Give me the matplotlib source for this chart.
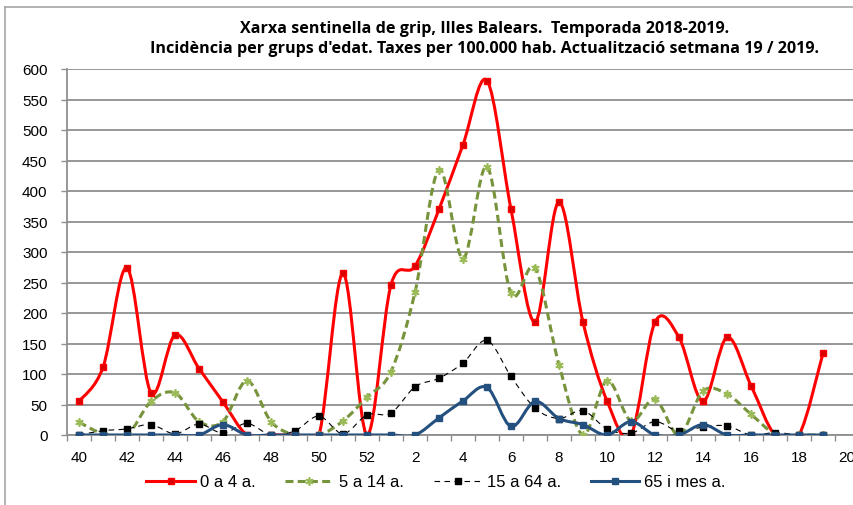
import numpy as np
import matplotlib.pyplot as plt
from matplotlib.path import Path
from matplotlib.patches import PathPatch
from matplotlib.lines import Line2D

# setmanes 40-52 (2018) i 1-19 (2019)
weeks = [40, 41, 42, 43, 44, 45, 46, 47, 48, 49, 50, 51, 52,
         1, 2, 3, 4, 5, 6, 7, 8, 9, 10, 11, 12, 13, 14, 15, 16, 17, 18, 19]
tick_labels = ['40', '42', '44', '46', '48', '50', '52', '2', '4', '6', '8',
               '10', '12', '14', '16', '18', '20']

edat_0_4 = [55, 111, 274, 69, 164, 109, 54, 0, 0, 0, 0, 265, 0,
            246, 277, 370, 476, 581, 370, 185, 382, 185, 56, 0, 185, 160, 55, 160, 81, 0, 0, 134]
edat_5_14 = [21, 2, 0, 55, 69, 22, 22, 89, 22, 0, 0, 23, 62,
             104, 234, 435, 289, 440, 232, 274, 115, 0, 89, 23, 59, 0, 72, 67, 34, 2, 0, 0]
edat_15_64 = [0, 7, 10, 17, 2, 18, 3, 19, 0, 7, 31, 2, 33,
              36, 79, 93, 118, 155, 96, 44, 27, 40, 10, 3, 22, 6, 13, 15, 0, 4, 0, 0]
edat_65 = [0, 0, 0, 0, 0, 0, 17, 0, 0, 0, 0, 0, 0,
           0, 0, 28, 56, 78, 14, 55, 27, 17, 0, 22, 0, 0, 17, 0, 0, 0, 0, 0]

series = [
    ('0 a 4 a.', edat_0_4, dict(color='#FF0000', lw=2.2, ls='-', marker='s', ms=5,
                                mfc='#D80000', mec='#FF0000')),
    ('5 a 14 a.', edat_5_14, dict(color='#77933C', lw=2.2, ls=(0, (2.6, 1.4)), marker=(6, 2, 0), ms=6,
                                  mfc='#9BBB59', mec='#9BBB59', mew=1.2)),
    ('15 a 64 a.', edat_15_64, dict(color='black', lw=0.8, ls=(0, (5, 4)), marker='s', ms=5,
                                    mfc='black', mec='black')),
    ('65 i mes a.', edat_65, dict(color='#24507F', lw=2.2, ls='-', marker='s', ms=4.5,
                                  mfc='#24507F', mec='#24507F')),
]


def smooth_path(x, y):
    # corba suavitzada tipus Excel (Bezier cubica)
    p = np.column_stack([x, y]).astype(float)
    n = len(p)
    verts = [p[0]]
    codes = [Path.MOVETO]
    for i in range(n - 1):
        p0 = p[i - 1] if i > 0 else p[i]
        p3 = p[i + 2] if i + 2 < n else p[i + 1]
        c1 = p[i] + (p[i + 1] - p0) / 6
        c2 = p[i + 1] - (p3 - p[i]) / 6
        verts += [c1, c2, p[i + 1]]
        codes += [Path.CURVE4] * 3
    return Path(verts, codes)


plt.rcParams['font.family'] = ['Liberation Sans', 'DejaVu Sans']

fig = plt.figure(figsize=(8.54, 5.06), dpi=100)
ax = fig.add_axes([67 / 854, 70 / 506, 792 / 854, 366 / 506])

x = np.arange(len(weeks))
handles = []
for name, vals, st in series:
    patch = PathPatch(smooth_path(x, vals), facecolor='none', edgecolor=st['color'],
                      lw=st['lw'], ls=st['ls'], zorder=3, capstyle='butt')
    ax.add_patch(patch)
    ax.plot(x, vals, ls='none', marker=st['marker'], ms=st['ms'], mfc=st['mfc'],
            mec=st['mec'], mew=st.get('mew', 1), zorder=4)
    handles.append(Line2D([], [], color=st['color'], lw=st['lw'], ls=st['ls'],
                          marker=st['marker'], ms=st['ms'], mfc=st['mfc'],
                          mec=st['mec'], mew=st.get('mew', 1), label=name))

ax.set_xlim(-0.5, 32.5)
ax.set_ylim(0, 600)
ax.set_yticks(range(0, 601, 50))
ax.set_xticks(range(0, 33, 2))
ax.set_xticklabels(tick_labels)
ax.set_xticks(np.arange(-0.5, 32.6, 1), minor=True)
ax.tick_params(axis='x', which='major', length=0, pad=11, labelsize=11)
ax.tick_params(axis='x', which='minor', length=4, color='#8f8f8f', width=1)
ax.tick_params(axis='y', length=4, color='#8f8f8f', width=1, pad=10, labelsize=11)
ax.grid(axis='y', color='#8f8f8f', lw=1.3)
ax.set_axisbelow(True)
for s in ['top', 'right']:
    ax.spines[s].set_visible(False)
for s in ['left', 'bottom']:
    ax.spines[s].set_color('#8f8f8f')
    ax.spines[s].set_linewidth(1.3)

title_font = dict(ha='center', va='center', fontsize=11.6, fontweight='bold',
                  family=['Open Sans', 'DejaVu Sans'])
fig.text(485 / 854, 1 - 29 / 506, 'Xarxa sentinella de grip, Illes Balears.  Temporada 2018-2019.',
         **title_font)
fig.text(485 / 854, 1 - 49 / 506,
         "Incidència per grups d'edat. Taxes per 100.000 hab. Actualització setmana 19 / 2019.",
         **title_font)

fig.legend(handles=handles, loc='center', bbox_to_anchor=(436 / 854, 1 - 483 / 506), ncol=4,
           frameon=False, fontsize=12, handlelength=2.9, handletextpad=0.3,
           columnspacing=1.8, numpoints=1)

# vora del grafic
fig.add_artist(Line2D([5.5 / 854, 5.5 / 854], [0, 1 - 7.5 / 506], color='#a6a6a6', lw=1.2,
                      transform=fig.transFigure))
fig.add_artist(Line2D([5.5 / 854, 1], [1 - 7.5 / 506, 1 - 7.5 / 506], color='#a6a6a6', lw=1.2,
                      transform=fig.transFigure))

fig.savefig('out.png', dpi=100)
